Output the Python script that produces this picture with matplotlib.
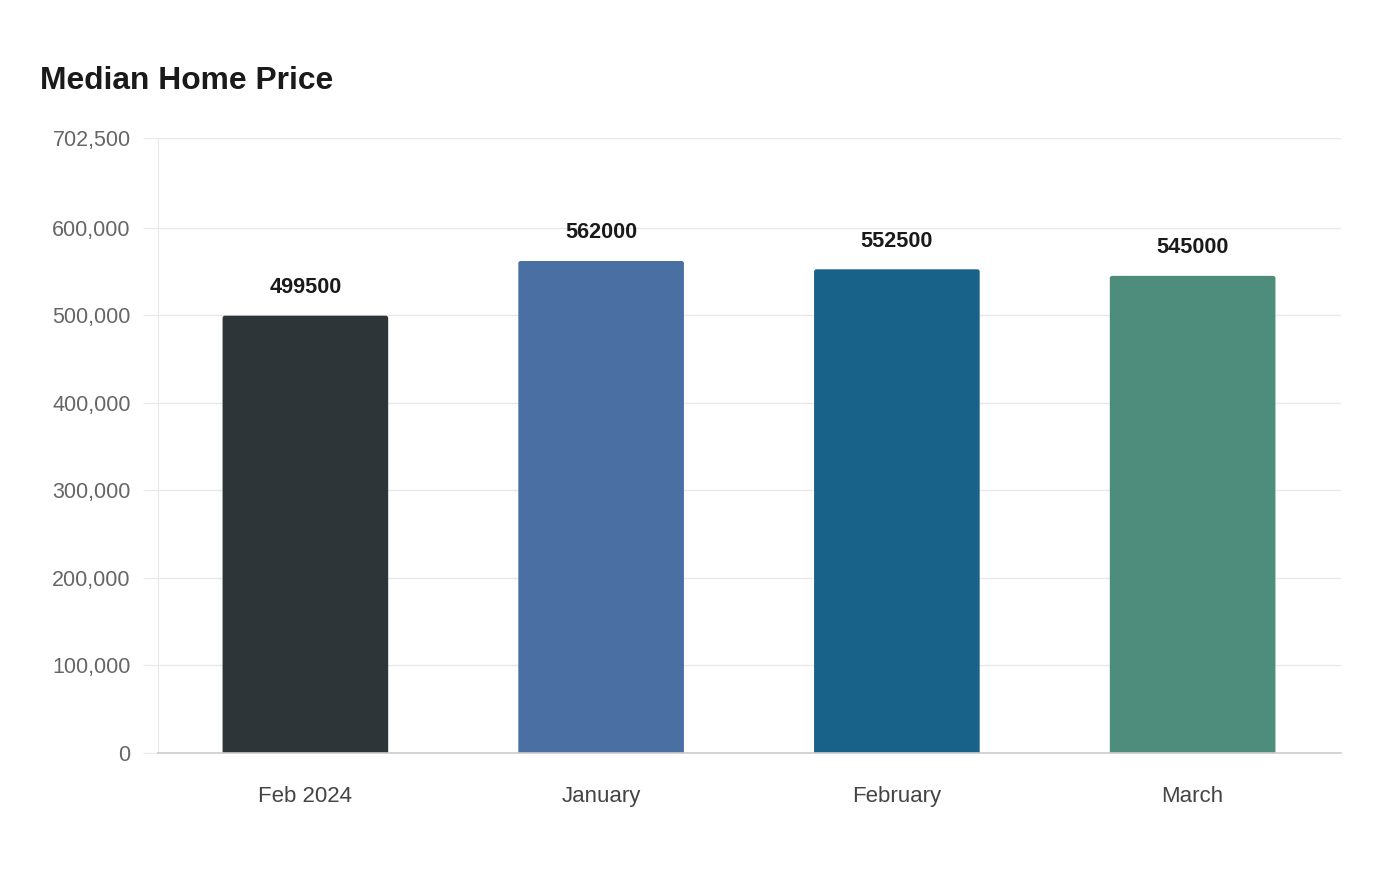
import matplotlib.pyplot as plt
from matplotlib.patches import FancyBboxPatch

plt.rcParams['font.family'] = ['Liberation Sans', 'DejaVu Sans']

categories = ['Feb 2024', 'January', 'February', 'March']
prices = [499500, 562000, 552500, 545000]
colors = ['#2e3538', '#4a6fa3', '#186188', '#4e8d7b']
y_ticks = [0, 100000, 200000, 300000, 400000, 500000, 600000, 702500]

fig = plt.figure(figsize=(14, 8.8), dpi=100)
ax = fig.add_axes([0.1125, 0.1443, 0.8450, 0.6989])

x = list(range(len(categories)))
bars = ax.bar(x, prices, width=0.56, color=colors, zorder=3)

# swap plain bars for ones with slightly rounded tops (bottom corners hidden below 0)
for b in bars:
    b.set_visible(False)
    p = FancyBboxPatch((b.get_x(), -15000), b.get_width(), b.get_height() + 15000,
                       boxstyle='round,pad=0,rounding_size=0.008',
                       mutation_aspect=702500 / 4 * 1.9,
                       facecolor=b.get_facecolor(), edgecolor='none', zorder=3)
    ax.add_patch(p)
    ax.text(b.get_x() + b.get_width() / 2, b.get_height() + 20000,
            str(int(b.get_height())), ha='center', va='bottom',
            fontsize=15.6, fontweight='bold', color='#1a1a1a')

ax.set_xlim(-0.5, len(categories) - 0.5)
ax.set_ylim(0, 702500)
ax.set_yticks(y_ticks)
ax.set_yticklabels([f'{v:,}' for v in y_ticks])
ax.set_xticks(x)
ax.set_xticklabels(categories)

ax.grid(axis='y', color='#e8e8e8', linewidth=1, zorder=0)
ax.tick_params(axis='y', length=10.8, color='#e8e8e8', labelsize=15.5, labelcolor='#666666', pad=8.6)
ax.tick_params(axis='x', length=0, labelsize=16, labelcolor='#444444', pad=24)

for s in ['top', 'right']:
    ax.spines[s].set_visible(False)
ax.spines['left'].set_color('#e8e8e8')
ax.spines['bottom'].set_color('#cccccc')
ax.spines['bottom'].set_linewidth(1.2)
ax.spines['bottom'].set_zorder(4)

fig.text(40 / 1400, 1 - 81 / 880, 'Median Home Price', fontsize=22.9, fontweight='bold',
         color='#1a1a1a', ha='left', va='center')

fig.savefig('out.png', dpi=100)
